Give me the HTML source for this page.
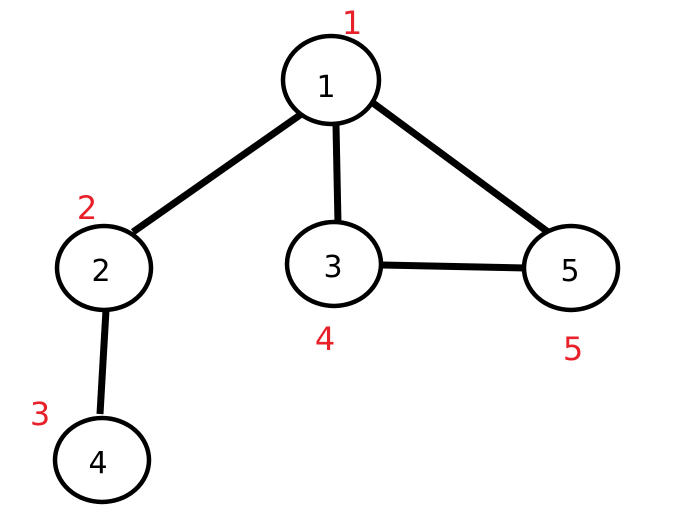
<!DOCTYPE html><html><head><style>html,body{margin:0;padding:0;background:#fff}</style></head><body>
<svg width="678" height="528" xmlns="http://www.w3.org/2000/svg" style="display:block">
<g stroke="#000" stroke-width="7" stroke-linecap="butt">
<line x1="300" y1="115" x2="133" y2="232"/>
<line x1="336" y1="125" x2="338" y2="224"/>
<line x1="373" y1="103" x2="548" y2="232"/>
<line x1="382" y1="265" x2="526" y2="268"/>
<line x1="106" y1="310" x2="100" y2="414"/>
</g>
<g fill="#fff" stroke="#000" stroke-width="4.5">
<ellipse cx="331" cy="80" rx="48" ry="44"/>
<ellipse cx="104" cy="268" rx="47" ry="42"/>
<ellipse cx="334" cy="264" rx="47" ry="42"/>
<ellipse cx="571" cy="268" rx="47" ry="42"/>
<ellipse cx="102" cy="460" rx="47" ry="42"/>
</g>
<g font-family="DejaVu Sans, sans-serif" font-size="30" text-anchor="middle">
<text x="326" y="97">1</text>
<text x="101" y="281">2</text>
<text x="333" y="277">3</text>
<text x="570" y="281">5</text>
<text x="98" y="473">4</text>
<g fill="#e8202a" font-size="32">
<text x="352" y="34">1</text>
<text x="87" y="219">2</text>
<text x="325" y="350">4</text>
<text x="573" y="360">5</text>
<text x="40" y="425">3</text>
</g></g>
</svg></body></html>
